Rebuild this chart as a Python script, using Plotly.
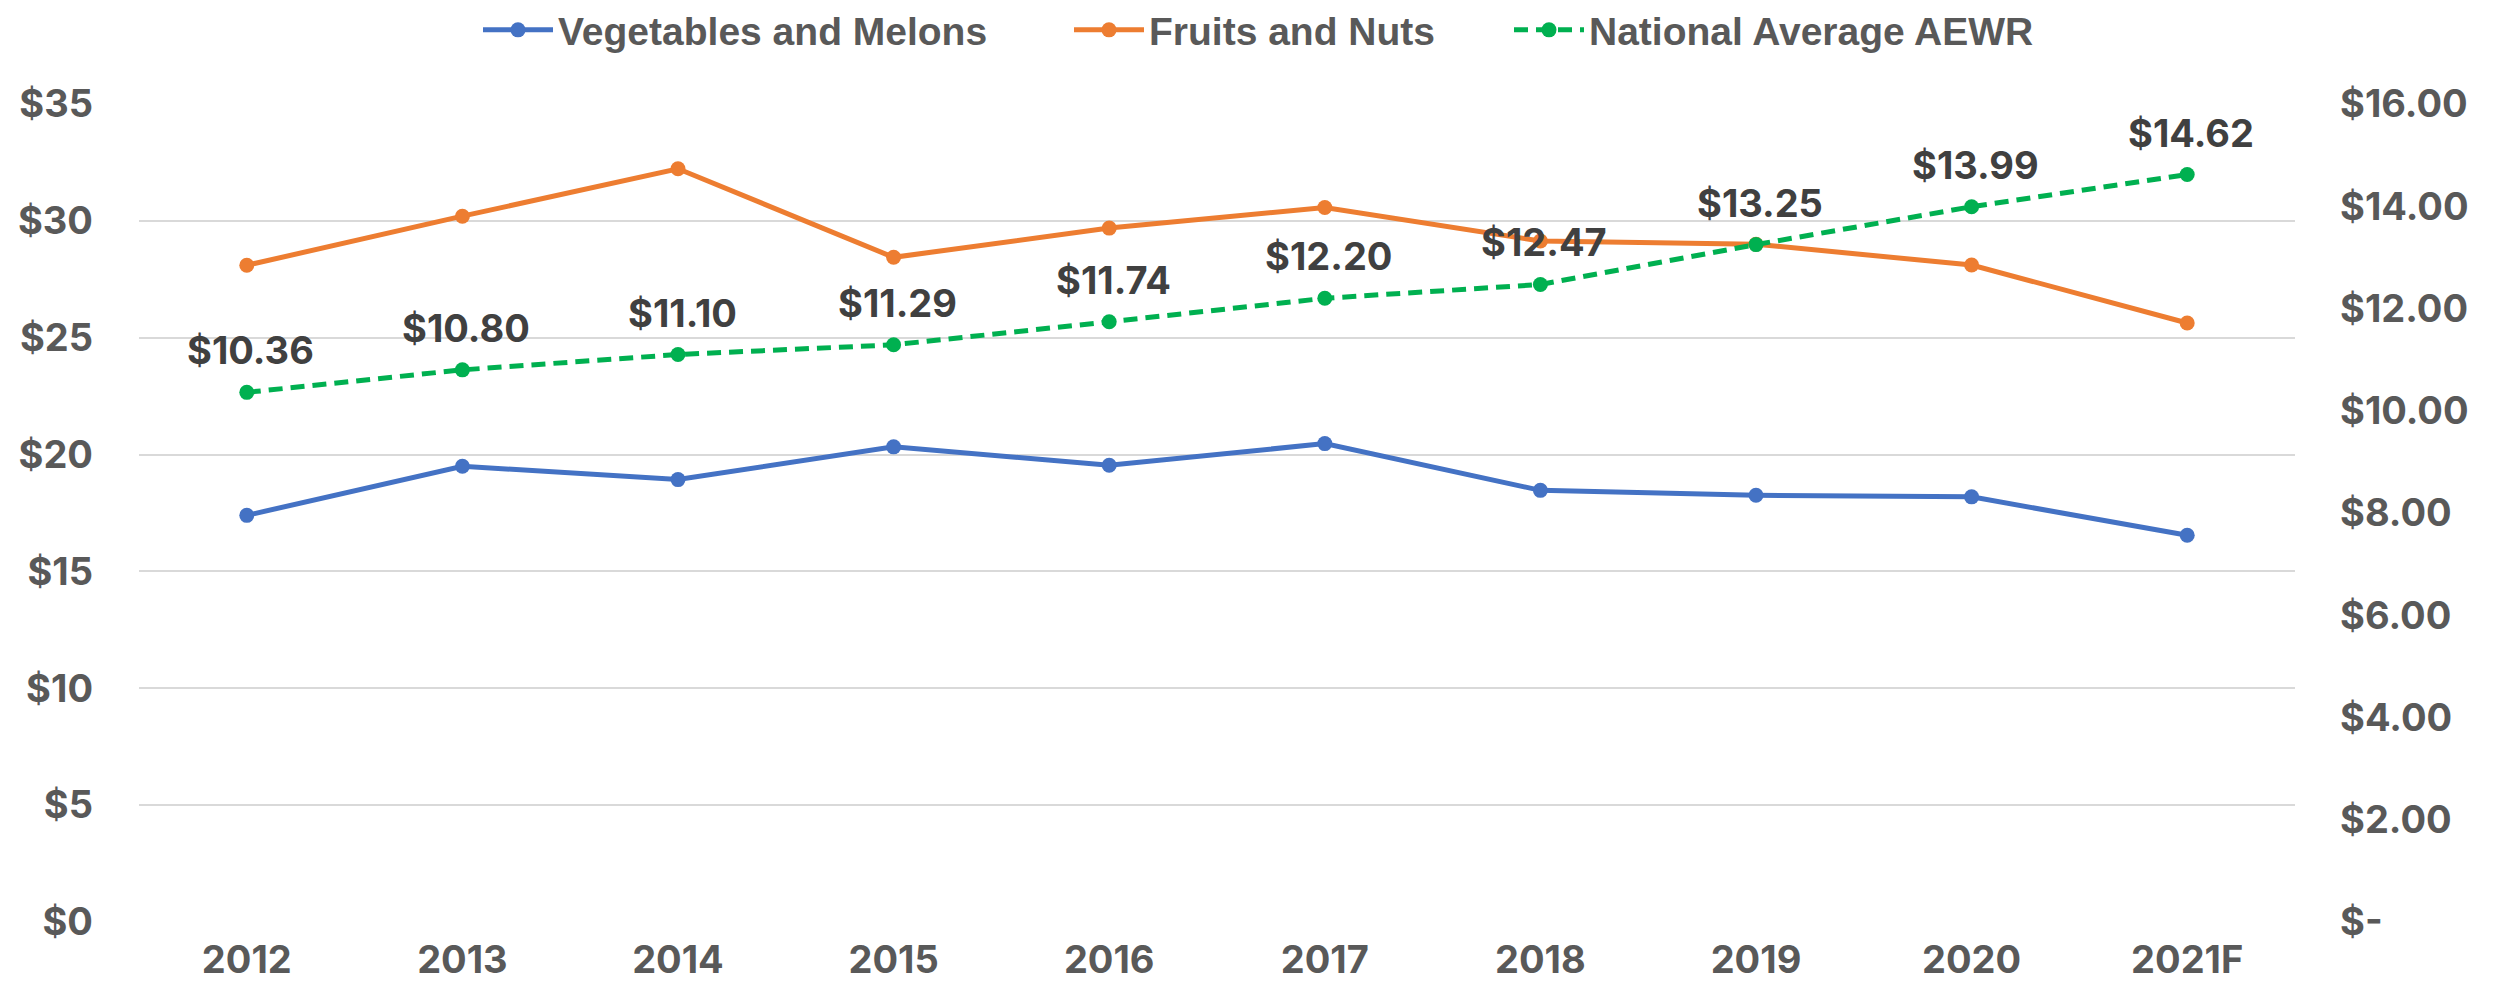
import plotly.graph_objects as go

years = ["2012", "2013", "2014", "2015", "2016", "2017", "2018", "2019", "2020", "2021F"]
veg_melons = [17.4, 19.5, 18.93, 20.33, 19.54, 20.47, 18.47, 18.26, 18.19, 16.55]
fruits_nuts = [28.1, 30.2, 32.23, 28.44, 29.69, 30.57, 29.14, 29.0, 28.11, 25.63]
aewr = [10.36, 10.80, 11.10, 11.29, 11.74, 12.20, 12.47, 13.25, 13.99, 14.62]

left_ticks = [0, 5, 10, 15, 20, 25, 30, 35]
left_ticktext = ["$0", "$5", "$10", "$15", "$20", "$25", "$30", "$35"]
right_ticks = [0, 2, 4, 6, 8, 10, 12, 14, 16]
right_ticktext = ["$-", "$2.00", "$4.00", "$6.00", "$8.00", "$10.00", "$12.00", "$14.00", "$16.00"]

BLUE = "#4472C4"
ORANGE = "#ED7D31"
GREEN = "#00B050"
AXIS_TXT = "#595959"
LABEL_TXT = "#404040"
NUM_FONT = "Inter, DejaVu Sans, sans-serif"
LEG_FONT = "Liberation Sans, Arial, sans-serif"

fig = go.Figure()
fig.add_trace(go.Scatter(
    x=years, y=veg_melons, name="Vegetables and Melons", mode="lines+markers",
    line=dict(color=BLUE, width=5), marker=dict(size=15, color=BLUE),
    legend="legend", yaxis="y"))
fig.add_trace(go.Scatter(
    x=years, y=fruits_nuts, name="Fruits and Nuts", mode="lines+markers",
    line=dict(color=ORANGE, width=5), marker=dict(size=15, color=ORANGE),
    legend="legend2", yaxis="y"))
fig.add_trace(go.Scatter(
    x=years, y=aewr, name="National Average AEWR", mode="lines+markers",
    line=dict(color=GREEN, width=5, dash="14px,8px"), marker=dict(size=15, color=GREEN),
    legend="legend3", yaxis="y2"))

for i, v in enumerate(aewr):
    fig.add_annotation(x=i, y=v, xref="x", yref="y2", text=f"${v:.2f}",
                       showarrow=False, yshift=42, xshift=4,
                       font=dict(family=NUM_FONT, size=38, color=LABEL_TXT, weight="bold"))

W, H = 2494, 984
L, R, T, B = 131, 207, 96, 70
pw, ph = W - L - R, H - T - B

def leg(xpix):
    return dict(orientation="h", x=(xpix - L) / pw, xanchor="left",
                yref="container", y=1 - 22 / H, yanchor="middle",
                font=dict(family=LEG_FONT, size=39, color=AXIS_TXT, weight="bold"),
                itemwidth=70, bgcolor="rgba(0,0,0,0)", borderwidth=0)

fig.update_layout(
    width=W, height=H,
    margin=dict(l=L, r=R, t=T, b=B, autoexpand=False),
    paper_bgcolor="white", plot_bgcolor="white",
    showlegend=True,
    legend=leg(470), legend2=leg(1061), legend3=leg(1501),
    xaxis=dict(type="category", range=[-0.5, 9.5], showgrid=False, zeroline=False,
               showline=False, ticks="", ticklabelstandoff=12, automargin=False,
               tickfont=dict(family=NUM_FONT, size=38, color=AXIS_TXT, weight="bold")),
    yaxis=dict(range=[0, 35], tickvals=left_ticks, ticktext=left_ticktext, showgrid=True,
               gridcolor="#D9D9D9", gridwidth=2, zeroline=False, showline=False,
               ticks="", ticklabelstandoff=45, automargin=False,
               tickfont=dict(family=NUM_FONT, size=38, color=AXIS_TXT, weight="bold")),
    yaxis2=dict(range=[0, 16], overlaying="y", side="right", tickvals=right_ticks,
                ticktext=right_ticktext, showgrid=False, zeroline=False, showline=False,
                ticks="", ticklabelstandoff=44, automargin=False,
                tickfont=dict(family=NUM_FONT, size=38, color=AXIS_TXT, weight="bold")),
)

fig.write_html("out.html")
